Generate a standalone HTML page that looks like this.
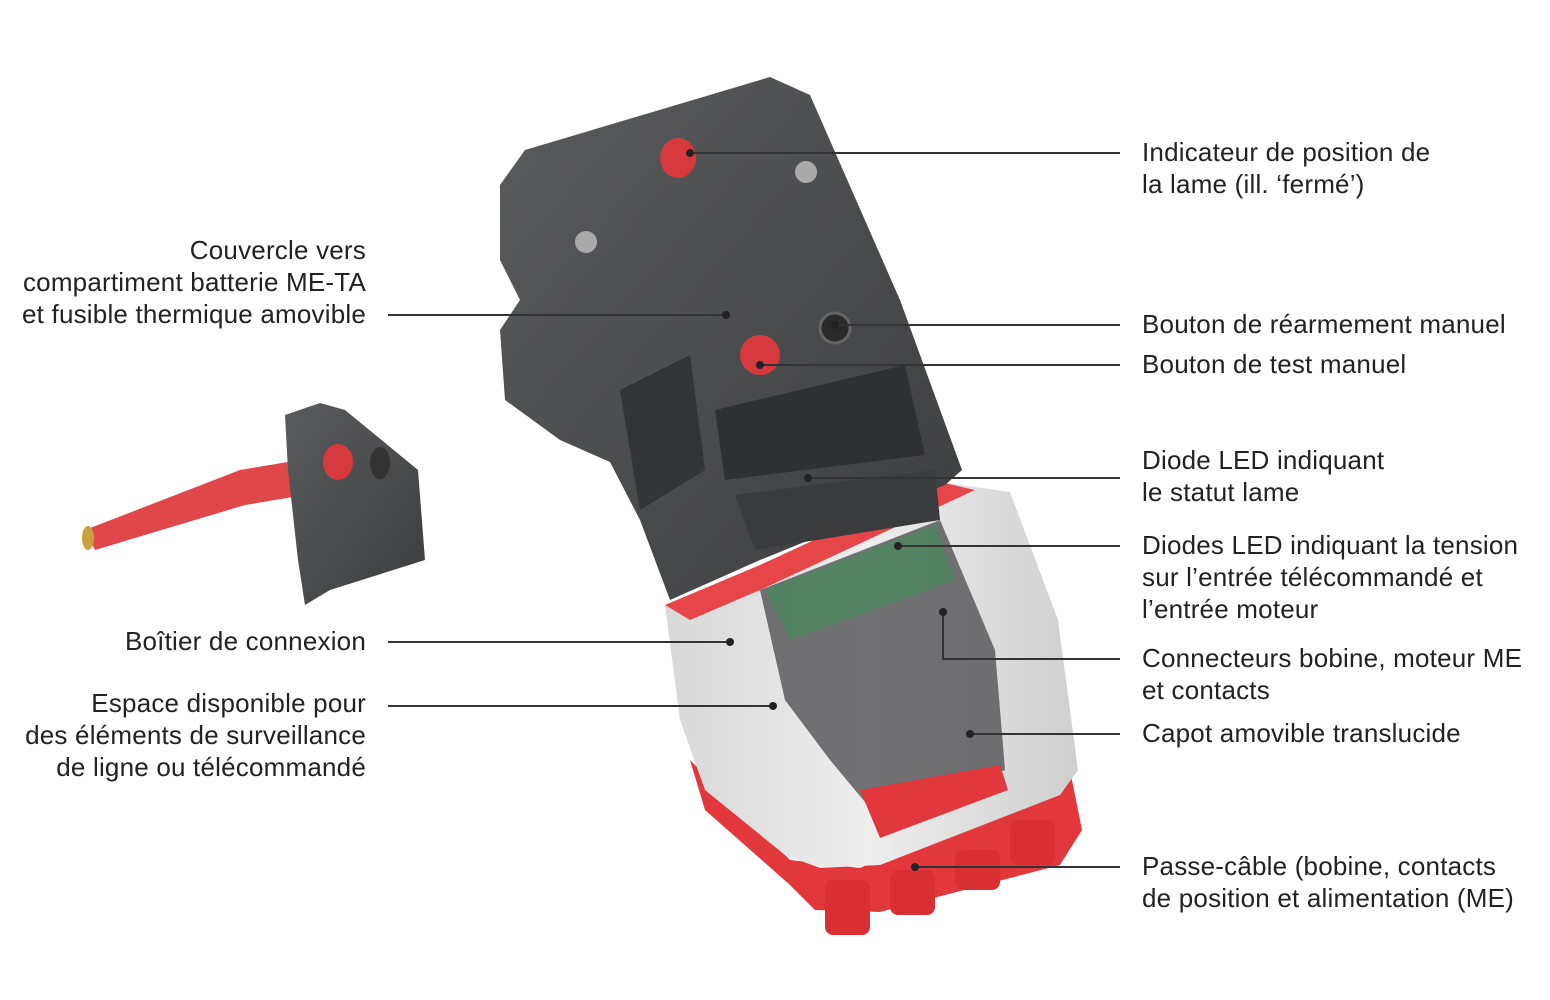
<!DOCTYPE html>
<html><head><meta charset="utf-8"><style>
html,body{margin:0;padding:0;background:#fff;}
body{width:1550px;height:1000px;position:relative;overflow:hidden;font-family:"Liberation Sans",sans-serif;}
.t{position:absolute;font-size:26px;line-height:32px;letter-spacing:0.2px;color:#222;white-space:nowrap;}
.r{left:1142px;}
.l{right:1184px;text-align:right;}
svg{position:absolute;left:0;top:0;}
</style></head><body>
<svg width="1550" height="1000" viewBox="0 0 1550 1000">
<defs>
<linearGradient id="g1" x1="0" y1="0" x2="1" y2="1"><stop offset="0" stop-color="#5a5b5d"/><stop offset="1" stop-color="#3c3d3f"/></linearGradient>
<linearGradient id="g2" x1="0" y1="0" x2="1" y2="0"><stop offset="0" stop-color="#d8d8d8"/><stop offset="0.5" stop-color="#eeeeee"/><stop offset="1" stop-color="#cfcfcf"/></linearGradient>
</defs>
<polygon points="85,530 240,470 300,460 305,495 245,505 95,550" fill="#e0474b"/>
<ellipse cx="88" cy="538" rx="6" ry="12" fill="#c8a040"/>
<polygon points="285,415 320,403 345,410 418,470 425,560 330,590 305,605 298,560 288,470" fill="url(#g1)"/>
<ellipse cx="338" cy="462" rx="15" ry="18" fill="#d63a3e"/>
<ellipse cx="380" cy="463" rx="10" ry="16" fill="#333"/>
<polygon points="690,760 790,860 860,868 1070,770 1082,830 1060,865 880,912 815,910 790,885 705,810" fill="#e2373c"/>
<g fill="#d82e34">
<rect x="825" y="880" width="45" height="55" rx="8"/><rect x="890" y="870" width="45" height="45" rx="8"/>
<rect x="955" y="850" width="45" height="40" rx="8"/><rect x="1010" y="820" width="45" height="45" rx="8"/>
</g>
<polygon points="665,605 760,565 940,482 1010,492 1058,620 1078,770 1060,795 880,865 820,868 785,855 705,790 680,720" fill="url(#g2)"/>
<polygon points="665,605 760,565 940,482 975,490 760,590 690,620" fill="#e6464a"/>
<polygon points="760,590 940,520 995,650 1005,770 880,820 830,760 785,700" fill="#5a5b5d" opacity="0.85"/>
<polygon points="765,590 935,525 955,580 790,640" fill="#3f8f5a" opacity="0.6"/>
<polygon points="860,790 1000,765 1008,790 880,838" fill="#e2373c"/>
<polygon points="525,150 770,77 810,95 900,300 962,470 945,485 760,560 670,600 640,520 610,462 560,440 505,400 500,330 520,300 500,260 500,185" fill="url(#g1)"/>
<polygon points="715,410 905,365 925,455 725,480" fill="#2f3032"/>
<polygon points="620,390 690,355 705,470 640,510" fill="#333436"/>
<ellipse cx="678" cy="158" rx="18" ry="20" fill="#d63a3e"/>
<circle cx="806" cy="172" r="11" fill="#aaa"/>
<circle cx="586" cy="242" r="11" fill="#aaa"/>
<circle cx="760" cy="355" r="20" fill="#d63a3e"/>
<circle cx="835" cy="328" r="15" fill="#2a2a2a" stroke="#666" stroke-width="3"/>
<polygon points="735,495 935,470 940,520 755,550" fill="#3a3b3d"/>
<g stroke="#333" stroke-width="2" fill="none">
<line x1="690" y1="153" x2="1120" y2="153"/>
<line x1="835" y1="325" x2="1120" y2="325"/>
<line x1="760" y1="365" x2="1120" y2="365"/>
<line x1="808" y1="478" x2="1120" y2="478"/>
<line x1="898" y1="546" x2="1120" y2="546"/>
<polyline points="943,612 943,659 1120,659"/>
<line x1="970" y1="734" x2="1120" y2="734"/>
<line x1="915" y1="867" x2="1120" y2="867"/>
<line x1="388" y1="315" x2="726" y2="315"/>
<line x1="388" y1="642" x2="730" y2="642"/>
<line x1="388" y1="706" x2="773" y2="706"/>
</g>
<g fill="#222">
<circle cx="690" cy="153" r="4"/><circle cx="835" cy="325" r="4"/><circle cx="760" cy="365" r="4"/>
<circle cx="808" cy="478" r="4"/><circle cx="898" cy="546" r="4"/><circle cx="943" cy="612" r="4"/>
<circle cx="970" cy="734" r="4"/><circle cx="915" cy="867" r="4"/><circle cx="726" cy="315" r="4"/>
<circle cx="730" cy="642" r="4"/><circle cx="773" cy="706" r="4"/>
</g>
</svg>
<div class="t r" style="top:136px">Indicateur de position de<br>la lame (ill. ‘fermé’)</div>
<div class="t r" style="top:308px">Bouton de réarmement manuel</div>
<div class="t r" style="top:348px">Bouton de test manuel</div>
<div class="t r" style="top:444px">Diode LED indiquant<br>le statut lame</div>
<div class="t r" style="top:529px">Diodes LED indiquant la tension<br>sur l’entrée télécommandé et<br>l’entrée moteur</div>
<div class="t r" style="top:642px">Connecteurs bobine, moteur ME<br>et contacts</div>
<div class="t r" style="top:717px">Capot amovible translucide</div>
<div class="t r" style="top:850px">Passe-câble (bobine, contacts<br>de position et alimentation (ME)</div>
<div class="t l" style="top:234px">Couvercle vers<br>compartiment batterie ME-TA<br>et fusible thermique amovible</div>
<div class="t l" style="top:625px">Boîtier de connexion</div>
<div class="t l" style="top:687px">Espace disponible pour<br>des éléments de surveillance<br>de ligne ou télécommandé</div>
</body></html>
